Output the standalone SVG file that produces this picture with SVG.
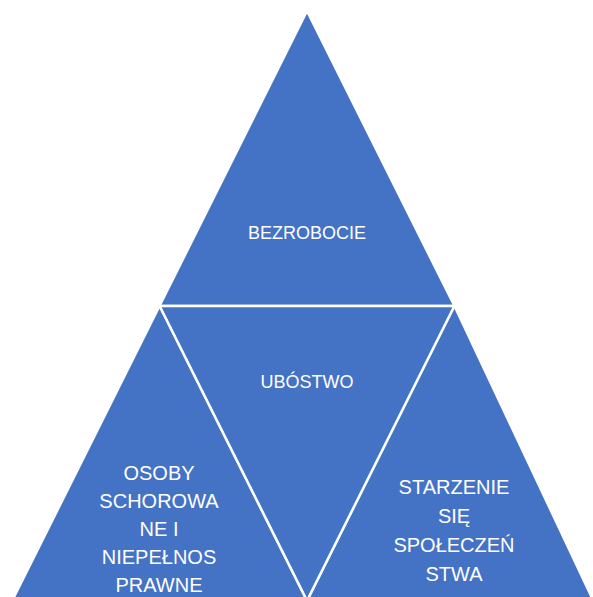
<svg xmlns="http://www.w3.org/2000/svg" width="593" height="597" viewBox="0 0 593 597">
<style>
.tri{fill:#4472C4;stroke:#FFFFFF;stroke-width:2.5;stroke-linejoin:miter}
.lbl{fill:#FFFFFF;font-family:"Liberation Sans","Noto Sans",Arial,sans-serif;text-anchor:middle}
.s18{font-size:18px}
.s20{font-size:20px}
</style>
<rect width="593" height="597" fill="#FFFFFF"/>
<g id="bezrobocie">
<polygon class="tri" points="307,11 159.5,306 454.5,306"/>
<text class="lbl s18" x="307" y="239">BEZROBOCIE</text>
</g>
<g id="ubostwo">
<polygon class="tri" points="159.5,306 454.5,306 307,601"/>
<text class="lbl s18" x="307" y="388">UBÓSTWO</text>
</g>
<g id="osoby">
<polygon class="tri" points="159.5,306 12,601 307,601"/>
<text class="lbl s20" x="159" y="480">OSOBY</text>
<text class="lbl s20" x="159" y="508">SCHOROWA</text>
<text class="lbl s20" x="159" y="536">NE I</text>
<text class="lbl s20" x="159" y="564">NIEPEŁNOS</text>
<text class="lbl s20" x="159" y="592">PRAWNE</text>
</g>
<g id="starzenie">
<polygon class="tri" points="454.5,306 307,601 593.5,601"/>
<text class="lbl s20" x="454" y="494">STARZENIE</text>
<text class="lbl s20" x="454" y="523">SIĘ</text>
<text class="lbl s20" x="454" y="552">SPOŁECZEŃ</text>
<text class="lbl s20" x="454" y="581">STWA</text>
</g>
<g id="connectors"/>
</svg>
